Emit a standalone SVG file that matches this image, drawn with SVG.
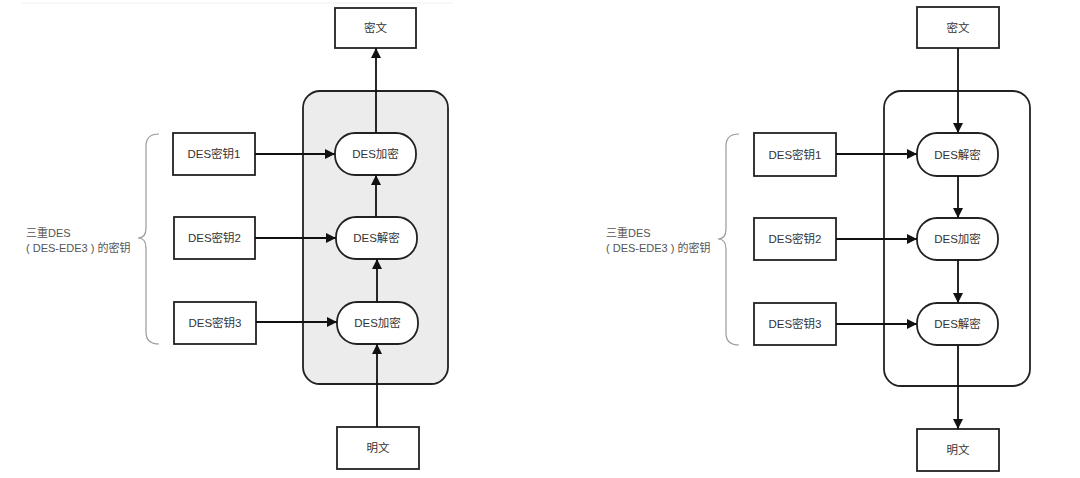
<svg xmlns="http://www.w3.org/2000/svg" width="1080" height="478" viewBox="0 0 1080 478">
<style>
.box{fill:#fff;stroke:#222;stroke-width:1.8}
.pill{fill:#fff;stroke:#222;stroke-width:1.8}
.t{font-family:"Liberation Sans","Noto Sans CJK SC",sans-serif;font-size:11.5px;fill:#333;text-anchor:middle;dominant-baseline:central}
.lbl{font-family:"Liberation Sans","Noto Sans CJK SC",sans-serif;font-size:11px;fill:#555}
.brace{fill:none;stroke:#999;stroke-width:1.2}
.c{stroke:#111;stroke-width:1.8;fill:none;marker-end:url(#ah)}
</style>
<defs>
<marker id="ah" viewBox="0 0 10 10" refX="10" refY="5" markerWidth="11" markerHeight="10" markerUnits="userSpaceOnUse" orient="auto">
<path d="M0,0 L10,5 L0,10 Z" fill="#111"/>
</marker>
</defs>
<rect width="1080" height="478" fill="#fff"/>
<line x1="22" y1="3" x2="453" y2="3" stroke="#f0f0f0" stroke-width="1"/>

<!-- Left panel -->
<g id="left-container"><rect x="303" y="91" width="145" height="293" rx="17" fill="#ececec" stroke="#222" stroke-width="1.8"/></g>
<g id="left-cipher"><rect class="box" x="335" y="8" width="81" height="40"/><text class="t" x="375.5" y="28">密文</text></g>
<g id="left-enc1"><rect class="pill" x="335" y="133" width="81" height="42" rx="20"/><text class="t" x="375.5" y="154">DES加密</text></g>
<g id="left-dec"><rect class="pill" x="336" y="217" width="81" height="42" rx="20"/><text class="t" x="376.5" y="238">DES解密</text></g>
<g id="left-enc2"><rect class="pill" x="337" y="302" width="81" height="42" rx="20"/><text class="t" x="377.5" y="323">DES加密</text></g>
<g id="left-plain"><rect class="box" x="337" y="427" width="82" height="42"/><text class="t" x="378" y="448">明文</text></g>
<g id="left-key1"><rect class="box" x="173" y="133" width="82" height="42"/><text class="t" x="214" y="154">DES密钥1</text></g>
<g id="left-key2"><rect class="box" x="174" y="217" width="81" height="42"/><text class="t" x="214.5" y="238">DES密钥2</text></g>
<g id="left-key3"><rect class="box" x="174" y="302" width="82" height="42"/><text class="t" x="215" y="323">DES密钥3</text></g>
<g id="left-label">
<path class="brace" d="M159,134 Q146,134 146,146 L146,228 Q146,238 138,238 Q146,238 146,248 L146,332 Q146,344 159,344"/>
<text class="lbl" x="26" y="237">三重DES</text>
<text class="lbl" x="26" y="252">( DES-EDE3 ) 的密钥</text>
</g>

<!-- Right panel -->
<g id="right-container"><rect x="884" y="91" width="146" height="295" rx="17" fill="#fff" stroke="#222" stroke-width="1.8"/></g>
<g id="right-cipher"><rect class="box" x="917" y="7" width="82" height="41"/><text class="t" x="958" y="27.5">密文</text></g>
<g id="right-dec1"><rect class="pill" x="917" y="133" width="81" height="43" rx="20"/><text class="t" x="957.5" y="154.5">DES解密</text></g>
<g id="right-enc"><rect class="pill" x="917" y="218" width="81" height="42" rx="20"/><text class="t" x="957.5" y="239">DES加密</text></g>
<g id="right-dec2"><rect class="pill" x="917" y="303" width="81" height="42" rx="20"/><text class="t" x="957.5" y="324">DES解密</text></g>
<g id="right-plain"><rect class="box" x="917" y="429" width="82" height="42"/><text class="t" x="958" y="450">明文</text></g>
<g id="right-key1"><rect class="box" x="754" y="133" width="82" height="43"/><text class="t" x="795" y="154.5">DES密钥1</text></g>
<g id="right-key2"><rect class="box" x="754" y="218" width="82" height="42"/><text class="t" x="795" y="239">DES密钥2</text></g>
<g id="right-key3"><rect class="box" x="754" y="303" width="82" height="42"/><text class="t" x="795" y="324">DES密钥3</text></g>
<g id="right-label">
<path class="brace" d="M739,134 Q726,134 726,146 L726,229 Q726,239 718,239 Q726,239 726,249 L726,333 Q726,345 739,345"/>
<text class="lbl" x="606" y="237">三重DES</text>
<text class="lbl" x="606" y="252">( DES-EDE3 ) 的密钥</text>
</g>

<g id="connectors">
<!-- left -->
<line class="c" x1="376" y1="133" x2="376" y2="48"/>
<line class="c" x1="376" y1="217" x2="376" y2="175"/>
<line class="c" x1="377" y1="302" x2="377" y2="259"/>
<line class="c" x1="377" y1="427" x2="377" y2="344"/>
<line class="c" x1="255" y1="154" x2="335" y2="154"/>
<line class="c" x1="255" y1="238" x2="336" y2="238"/>
<line class="c" x1="256" y1="322" x2="337" y2="322"/>
<!-- right -->
<line class="c" x1="958" y1="48" x2="958" y2="133"/>
<line class="c" x1="958" y1="176" x2="958" y2="218"/>
<line class="c" x1="958" y1="260" x2="958" y2="303"/>
<line class="c" x1="958" y1="345" x2="958" y2="429"/>
<line class="c" x1="836" y1="154" x2="917" y2="154"/>
<line class="c" x1="836" y1="239" x2="917" y2="239"/>
<line class="c" x1="836" y1="324" x2="917" y2="324"/>
</g>
</svg>
